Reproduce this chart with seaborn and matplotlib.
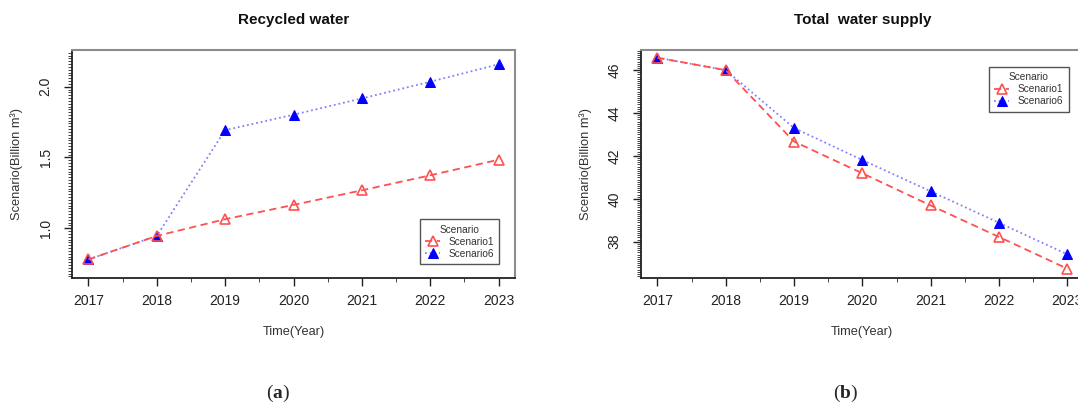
import matplotlib
matplotlib.use("Agg")
import matplotlib.pyplot as plt
from matplotlib.ticker import MultipleLocator
import numpy as np
import pandas as pd
import seaborn as sns

# ---------------- data ----------------
years = [2017, 2018, 2019, 2020, 2021, 2022, 2023]

recycled_s1 = [0.78, 0.946, 1.064, 1.165, 1.268, 1.374, 1.484]
recycled_s6 = [0.78, 0.946, 1.693, 1.802, 1.917, 2.035, 2.158]

supply_s1 = [46.58, 46.0, 42.67, 41.19, 39.69, 38.22, 36.74]
supply_s6 = [46.58, 46.0, 43.30, 41.81, 40.35, 38.88, 37.41]

titles = ["Recycled water", "Total  water supply"]
panel_tags = ["a", "b"]
y_limits = [(0.651, 2.259), (36.32, 46.94)]
y_majors = [[1.0, 1.5, 2.0], [38, 40, 42, 44, 46]]

df = pd.DataFrame({
    "Year": years * 4,
    "Value": recycled_s1 + recycled_s6 + supply_s1 + supply_s6,
    "Scenario": (["Scenario1"] * 7 + ["Scenario6"] * 7) * 2,
    "Panel": ["a"] * 14 + ["b"] * 14,
})

sns.set_theme(style="white")
plt.rcParams["font.family"] = ["Liberation Sans", "DejaVu Sans"]
plt.rcParams["mathtext.fontset"] = "custom"
plt.rcParams["mathtext.rm"] = "Liberation Serif"
plt.rcParams["mathtext.bf"] = "Liberation Serif:bold"

red = "#FF5050"
blue_line = "#8080FF"
blue_mark = "#0000FF"

fig = plt.figure(figsize=(10.78, 4.05), dpi=100)
ax_a = fig.add_axes([72 / 1078, 1 - 277.7 / 405, 443 / 1078, 227.7 / 405])
ax_b = fig.add_axes([641 / 1078, 1 - 277.7 / 405, 442.7 / 1078, 227.7 / 405])
axes = [ax_a, ax_b]

for i, ax in enumerate(axes):
    sub = df[df["Panel"] == panel_tags[i]]
    s1 = sub[sub["Scenario"] == "Scenario1"]
    s6 = sub[sub["Scenario"] == "Scenario6"]

    # scenario 6 first so the open red triangles sit on top where they overlap
    sns.lineplot(data=s6, x="Year", y="Value", ax=ax, color=blue_line,
                 linestyle=(0, (1, 1.6)), linewidth=1.3, marker="^",
                 markersize=6.5, markerfacecolor=blue_mark,
                 markeredgecolor=blue_mark, label="Scenario6")
    sns.lineplot(data=s1, x="Year", y="Value", ax=ax, color=red,
                 linestyle=(0, (4, 2.5)), linewidth=1.3, marker="^",
                 markersize=6.5, markerfacecolor="none",
                 markeredgecolor=red, markeredgewidth=1.2, label="Scenario1")

    ax.set_xlim(2016.76, 2023.24)
    ax.set_ylim(*y_limits[i])
    ax.set_xticks(years)
    ax.xaxis.set_minor_locator(MultipleLocator(0.5))
    ax.set_yticks(y_majors[i])
    ax.yaxis.set_minor_locator(MultipleLocator(0.02 if i == 0 else 0.1))
    if i == 0:
        ax.set_yticklabels(["1.0", "1.5", "2.0"])

    ax.tick_params(axis="both", which="major", direction="out", length=6,
                   width=1.0, color="#222222", labelsize=10,
                   labelcolor="#222222", bottom=True, left=True)
    ax.tick_params(axis="both", which="minor", direction="out", length=3,
                   width=0.7, color="#444444", bottom=True, left=True)
    ax.tick_params(axis="x", which="major", pad=6)
    ax.tick_params(axis="y", which="major", pad=8, labelrotation=90)
    for lab in ax.get_yticklabels():
        lab.set_va("center")

    for side in ["left", "bottom"]:
        ax.spines[side].set_color("#222222")
        ax.spines[side].set_linewidth(1.3)
    for side in ["top", "right"]:
        ax.spines[side].set_color("#8c8c8c")
        ax.spines[side].set_linewidth(1.5)

    ax.set_xlabel("Time(Year)", fontsize=9.2, color="#333333")
    ax.set_ylabel("Scenario(Billion m³)", fontsize=9.3, color="#333333")
    ax.xaxis.set_label_coords(0.5, -0.21)
    ax.yaxis.set_label_coords(-0.11, 0.5)
    ax.set_title(titles[i], y=1.132, va="center", pad=0, fontsize=11,
                 fontweight="bold", color="#111111")

    handles, labels = ax.get_legend_handles_labels()
    order = [labels.index("Scenario1"), labels.index("Scenario6")]
    if i == 0:
        anchor, loc = (0.965, 0.059), "lower right"
    else:
        anchor, loc = (0.966, 0.927), "upper right"
    leg = ax.legend([handles[k] for k in order], [labels[k] for k in order],
                    title="Scenario", loc=loc, bbox_to_anchor=anchor,
                    borderaxespad=0, fontsize=7.3, title_fontsize=7.3,
                    fancybox=False, framealpha=1, edgecolor="#555555",
                    borderpad=0.55, labelspacing=0.2, handlelength=1.5,
                    handletextpad=0.8, labelcolor="#333333")
    leg.get_frame().set_linewidth(1.0)
    leg.get_title().set_color("#333333")

fig.text(278 / 1078, 1 - 393 / 405, r"($\mathbf{a}$)", ha="center",
         va="center", fontsize=14, family="Liberation Serif")
fig.text(846 / 1078, 1 - 393 / 405, r"($\mathbf{b}$)", ha="center",
         va="center", fontsize=14, family="Liberation Serif")

fig.savefig("out.png", dpi=100)
